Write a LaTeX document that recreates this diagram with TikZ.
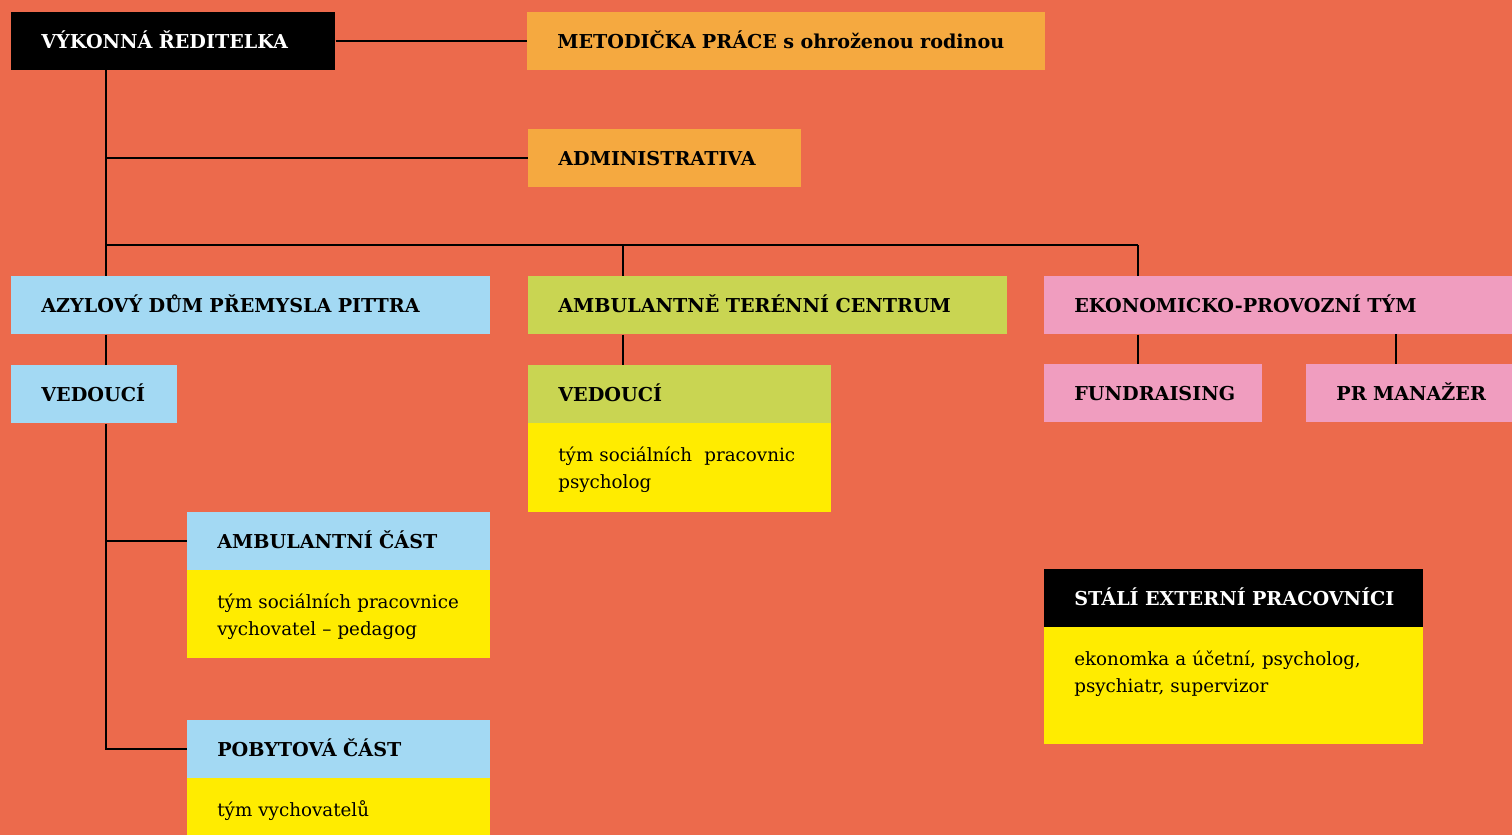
\documentclass[tikz,border=0pt]{standalone}
\usepackage{fontspec}
\setmainfont{DejaVu Serif}
\usepackage{tikz}
\definecolor{bgorange}{HTML}{EC6A4C}
\definecolor{ocher}{HTML}{F5A940}
\definecolor{sky}{HTML}{A3D9F3}
\definecolor{lime}{HTML}{C9D552}
\definecolor{pink}{HTML}{F09DBF}
\definecolor{yel}{HTML}{FFEC00}
\tikzset{
	head/.style={anchor=north west, inner xsep=0.6cm, inner ysep=0pt, align=left,
		text height=0.73cm, text depth=0.43cm, font=\fontsize{10.9}{13}\selectfont\bfseries},
	body/.style={anchor=north west, fill=yel, inner xsep=0.6cm, inner ysep=0pt, align=left,
		text height=0.76cm, font=\fontsize{10.4}{15.3}\selectfont},
	link/.style={line width=1.2pt, black}
}

\begin{document}
\begin{tikzpicture}[x=0.02cm, y=-0.02cm]
		%%%%% START %%%%%
		\useasboundingbox (0,0) rectangle (1512,835);
		\fill[bgorange] (0,0) rectangle (1512,835);
		
		% top
		\node[head, fill=black, text=white, text width=5.28cm] (dir) at (11,12) {VÝKONNÁ ŘEDITELKA};
		\node[head, fill=ocher, text width=9.16cm] (metod) at (527,12) {METODIČKA PRÁCE s ohroženou rodinou};
		\node[head, fill=ocher, text width=4.26cm] (admin) at (528,129) {ADMINISTRATIVA};
		
		% three parts
		\node[head, fill=sky, text width=8.38cm] (azyl) at (11,276) {AZYLOVÝ DŮM PŘEMYSLA PITTRA};
		\node[head, fill=lime, text width=8.38cm] (ater) at (528,276) {AMBULANTNĚ TERÉNNÍ CENTRUM};
		\node[head, fill=pink, text width=8.16cm] (eko) at (1044,276) {EKONOMICKO-PROVOZNÍ TÝM};
		
		\node[head, fill=sky, text width=2.12cm] (ved1) at (11,365) {VEDOUCÍ};
		\node[body, text width=4.86cm, text depth=1.02cm] (ved2t) at (528,423) {tým sociálních~ pracovnic\\psycholog};
		\node[head, fill=lime, text width=4.86cm] (ved2) at (528,365) {VEDOUCÍ};
		\node[head, fill=pink, text width=3.16cm] (fund) at (1044,364) {FUNDRAISING};
		\node[head, fill=pink, text width=2.92cm] (pr) at (1306,364) {\mbox{PR MANAŽER}};
		
		\node[body, text width=4.86cm, text depth=1.0cm] (ambt) at (187,570) {tým sociálních pracovnice\\vychovatel – pedagog};
		\node[head, fill=sky, text width=4.86cm] (amb) at (187,512) {AMBULANTNÍ ČÁST};
		\node[body, text width=4.86cm, text depth=0.44cm] (pobt) at (187,778) {tým vychovatelů};
		\node[head, fill=sky, text width=4.86cm] (pob) at (187,720) {POBYTOVÁ ČÁST};
		
		\node[body, text width=6.38cm, text depth=1.58cm] (extt) at (1044,627) {ekonomka a účetní, psycholog,\\psychiatr, supervizor};
		\node[head, fill=black, text=white, text width=6.38cm] (ext) at (1044,569) {\mbox{STÁLÍ EXTERNÍ PRACOVNÍCI}};
		
		% lines
		\coordinate (spine) at (106,70);
		\coordinate (bus) at (106,245);
		\coordinate (midx) at (623,245);
		\coordinate (ekox) at (1138,245);
		\coordinate (prx) at (1396,334);
		
		\draw[link] (dir.east) -- (metod.west);
		\draw[link] (spine) -- (spine |- azyl.north);
		\draw[link] (spine |- admin.west) -- (admin.west);
		\draw[link] (bus) -- (ekox);
		\draw[link] (midx) -- (midx |- ater.north);
		\draw[link] (ekox) -- (ekox |- eko.north);
		\draw[link] (spine |- azyl.south) -- (spine |- ved1.north);
		\draw[link] (midx |- ater.south) -- (midx |- ved2.north);
		\draw[link] (ekox |- eko.south) -- (ekox |- fund.north);
		\draw[link] (prx) -- (prx |- pr.north);
		\draw[link] (spine |- ved1.south) -- (spine |- pob.west) -- (pob.west);
		\draw[link] (spine |- amb.west) -- (amb.west);
		%%%%% END %%%%%
	\end{tikzpicture}
\end{document}
